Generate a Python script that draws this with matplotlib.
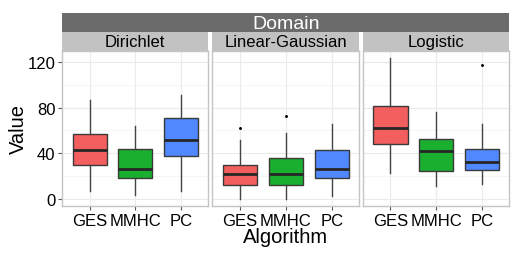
import numpy as np
import matplotlib
matplotlib.use('Agg')
import matplotlib.pyplot as plt

plt.rcParams['font.family'] = ['Liberation Sans', 'DejaVu Sans']

#-------------------------------------------------------------------------------
domains = ['Dirichlet', 'Linear-Gaussian', 'Logistic']
algorithms = ['GES', 'MMHC', 'PC']
colors = ['#F35E5E', '#1AAF2F', '#4F88FF']

# per domain, per algorithm: whisker low, q1, median, q3, whisker high
whislo = [[7, 4, 7], [0, 0.3, 3], [23, 12, 13]]
q1 = [[29.6, 18.6, 38], [12.2, 12.5, 18.8], [48, 24.4, 25.8]]
med = [[42.7, 26.4, 52], [21.8, 22.3, 26.7], [62.4, 42.1, 32.8]]
q3 = [[56.7, 43.6, 70.9], [30.2, 36.3, 43.3], [81.6, 52.3, 43.6]]
whishi = [[86.6, 64, 90.7], [51.5, 57.8, 65.7], [123.5, 75.9, 65.7]]
outliers = [[[], [], []], [[62.5], [72.9], []], [[], [], [116.9]]]

yticks = [0, 40, 80, 120]
#-------------------------------------------------------------------------------
W, H = 524, 255
fig = plt.figure(figsize=(W/100, H/100), dpi=100)

def box(x0, x1, y0, y1):
    # pixel box (top-left origin) -> figure fraction
    return [x0/W, (H-y1)/H, (x1-x0)/W, (y1-y0)/H]

panel_x = [(62.3, 208.3), (212.3, 359.3), (363.0, 509.3)]
ptop, pbot = 52, 207
border = '#C4C4C4'

for i, dom in enumerate(domains):
    ax = fig.add_axes(box(panel_x[i][0], panel_x[i][1], ptop, pbot))
    ax.set_facecolor('white')
    for y in [20, 60, 100]:
        ax.axhline(y, color='#F4F4F4', lw=0.6, zorder=0)
    for y in yticks:
        ax.axhline(y, color='#EBEBEB', lw=0.8, zorder=0)
    for x in range(1, 4):
        ax.axvline(x, color='#EBEBEB', lw=0.8, zorder=0)

    stats = []
    for j in range(3):
        stats.append(dict(whislo=whislo[i][j], q1=q1[i][j], med=med[i][j],
                          q3=q3[i][j], whishi=whishi[i][j], fliers=outliers[i][j]))
    bp = ax.bxp(stats, positions=[1, 2, 3], widths=0.75, patch_artist=True,
                showcaps=False,
                boxprops=dict(edgecolor='#3A3A3A', linewidth=1.0),
                medianprops=dict(color='#262626', linewidth=2.0),
                whiskerprops=dict(color='#444444', linewidth=1.0),
                flierprops=dict(marker='o', markersize=1.1, markerfacecolor='black',
                                markeredgecolor='black'))
    for patch, c in zip(bp['boxes'], colors):
        patch.set_facecolor(c)

    ax.set_xlim(0.4, 3.6)
    ax.set_ylim(-5.84, 129.3)
    ax.set_xticks([1, 2, 3])
    ax.set_xticklabels(algorithms, fontsize=12)
    ax.tick_params(axis='x', length=3, width=0.8, color='#555555', pad=2)
    if i == 0:
        ax.set_yticks(yticks)
        ax.set_yticklabels([str(v) for v in yticks], fontsize=12)
        ax.tick_params(axis='y', length=3, width=0.8, color='#555555', pad=2)
    else:
        ax.set_yticks([])
    for s in ax.spines.values():
        s.set_color(border)
        s.set_linewidth(1.0)

    # facet strip
    sax = fig.add_axes(box(panel_x[i][0], panel_x[i][1], 33, ptop))
    sax.set_xticks([]); sax.set_yticks([])
    sax.set_facecolor('#C2C2C2')
    for s in sax.spines.values():
        s.set_visible(False)
    sax.text(0.5, 0.48, dom, ha='center', va='center', fontsize=12,
             transform=sax.transAxes)

# top strip
dax = fig.add_axes(box(62.3, 509.3, 14, 33))
dax.set_xticks([]); dax.set_yticks([])
dax.set_facecolor('#6B6B6B')
for s in dax.spines.values():
    s.set_visible(False)
dax.text(0.5, 0.45, 'Domain', ha='center', va='center', fontsize=14,
         color='white', transform=dax.transAxes)

fig.text(18.5/W, 1 - 129.5/H, 'Value', rotation=90, ha='center', va='center', fontsize=14.5)
fig.text(285.8/W, 1 - 238/H, 'Algorithm', ha='center', va='center', fontsize=14.5)

fig.savefig('out.png', dpi=100)
